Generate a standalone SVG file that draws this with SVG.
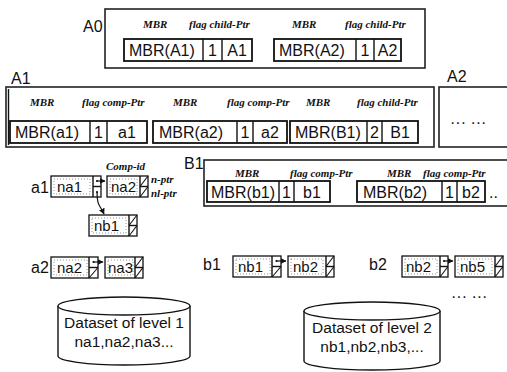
<svg xmlns="http://www.w3.org/2000/svg" width="507" height="372" viewBox="0 0 507 372">
<defs>
<style>
.bg{fill:#fff}
.frame{fill:none;stroke:#222;stroke-width:1.6}
.ent{fill:#fff;stroke:#111;stroke-width:1.8}
.div{stroke:#111;stroke-width:1.4}
.lbl{font-family:"Liberation Sans",Arial,sans-serif;font-size:16px;fill:#111}
.big{font-family:"Liberation Sans",Arial,sans-serif;font-size:16px;fill:#111}
.fld{font-family:"Liberation Serif","Times New Roman",serif;font-style:italic;font-weight:bold;font-size:11px;fill:#111}
.nd{fill:#fff;stroke:#111;stroke-width:1.3}
.dot{fill:none;stroke:#777;stroke-width:0.8;stroke-dasharray:1 2}
.nt{font-family:"Liberation Sans",Arial,sans-serif;font-size:15px;fill:#111}
.ds{font-family:"Liberation Sans",Arial,sans-serif;font-size:15.5px;fill:#111}
.hat{stroke:#111;stroke-width:1.1}
.conn{fill:none;stroke:#111;stroke-width:1.2}
.cyl{fill:#fff;stroke:#111;stroke-width:1.4}
</style>
<marker id="ah" viewBox="0 0 6 6" refX="5.5" refY="3" markerWidth="5" markerHeight="5" orient="auto"><path d="M0,0 L6,3 L0,6 z" fill="#111"/></marker>
</defs>
<rect class="bg" width="507" height="372"/>

<g id="A0">
<text class="big" x="83" y="32">A0</text>
<rect class="frame" x="105" y="9" width="320" height="59"/>
<text class="fld" x="143" y="28">MBR</text>
<text class="fld" x="189" y="28">flag child-Ptr</text>
<text class="fld" x="292" y="28">MBR</text>
<text class="fld" x="345" y="28">flag child-Ptr</text>
<rect class="ent" x="124" y="39" width="128" height="22"/>
<line class="div" x1="203" y1="39" x2="203" y2="61"/><line class="div" x1="222" y1="39" x2="222" y2="61"/>
<text class="lbl" x="129" y="56">MBR(A1)</text><text class="lbl" x="212.5" y="56" text-anchor="middle">1</text><text class="lbl" x="237" y="56" text-anchor="middle">A1</text>
<rect class="ent" x="274" y="39" width="127" height="22"/>
<line class="div" x1="356" y1="39" x2="356" y2="61"/><line class="div" x1="374" y1="39" x2="374" y2="61"/>
<text class="lbl" x="279" y="56">MBR(A2)</text><text class="lbl" x="365" y="56" text-anchor="middle">1</text><text class="lbl" x="387.5" y="56" text-anchor="middle">A2</text>
</g>

<g id="A1">
<text class="big" x="11" y="84">A1</text>
<rect class="frame" x="6" y="87" width="428" height="60"/>
<line class="div" x1="8.5" y1="89" x2="8.5" y2="145" stroke-width="1"/>
<text class="fld" x="30" y="106">MBR</text>
<text class="fld" x="82" y="106">flag comp-Ptr</text>
<text class="fld" x="173" y="106">MBR</text>
<text class="fld" x="227" y="106">flag comp-Ptr</text>
<text class="fld" x="306" y="106">MBR</text>
<text class="fld" x="357" y="106">flag child-Ptr</text>
<rect class="ent" x="10" y="121" width="137" height="22"/>
<line class="div" x1="90" y1="121" x2="90" y2="143"/><line class="div" x1="107" y1="121" x2="107" y2="143"/>
<text class="lbl" x="15" y="138">MBR(a1)</text><text class="lbl" x="98.5" y="138" text-anchor="middle">1</text><text class="lbl" x="127" y="138" text-anchor="middle">a1</text>
<rect class="ent" x="153" y="121" width="134" height="22"/>
<line class="div" x1="237" y1="121" x2="237" y2="143"/><line class="div" x1="253" y1="121" x2="253" y2="143"/>
<text class="lbl" x="159" y="138">MBR(a2)</text><text class="lbl" x="245" y="138" text-anchor="middle">1</text><text class="lbl" x="270" y="138" text-anchor="middle">a2</text>
<rect class="ent" x="290" y="121" width="128" height="22"/>
<line class="div" x1="367" y1="121" x2="367" y2="143"/><line class="div" x1="382" y1="121" x2="382" y2="143"/>
<text class="lbl" x="295" y="138">MBR(B1)</text><text class="lbl" x="374.5" y="138" text-anchor="middle">2</text><text class="lbl" x="400" y="138" text-anchor="middle">B1</text>
</g>

<g id="A2">
<text class="big" x="447" y="82">A2</text>
<rect class="frame" x="439" y="87" width="72" height="60"/>
<text class="lbl" x="450" y="128">··· ···</text>
</g>

<g id="B1">
<text class="big" x="184" y="169">B1</text>
<rect class="frame" x="204" y="160" width="310" height="46"/>
<text class="fld" x="235" y="177">MBR</text>
<text class="fld" x="290" y="177">flag comp-Ptr</text>
<text class="fld" x="387" y="177">MBR</text>
<text class="fld" x="423" y="177">flag comp-Ptr</text>
<rect class="ent" x="207" y="181" width="123" height="21"/>
<line class="div" x1="279" y1="181" x2="279" y2="202"/><line class="div" x1="294" y1="181" x2="294" y2="202"/>
<text class="lbl" x="211" y="198">MBR(b1)</text><text class="lbl" x="286.5" y="198" text-anchor="middle">1</text><text class="lbl" x="312" y="198" text-anchor="middle">b1</text>
<rect class="ent" x="357" y="181" width="128" height="21"/>
<line class="div" x1="442" y1="181" x2="442" y2="202"/><line class="div" x1="457" y1="181" x2="457" y2="202"/>
<text class="lbl" x="363" y="198">MBR(b2)</text><text class="lbl" x="449.5" y="198" text-anchor="middle">1</text><text class="lbl" x="471" y="198" text-anchor="middle">b2</text>
<text class="lbl" x="489" y="198">..</text>
</g>

<g id="a1">
<text class="big" x="31" y="193">a1</text>
<text class="fld" x="106" y="170">Comp-id</text>
<text class="fld" x="151" y="183">n-ptr</text>
<text class="fld" x="151" y="197">nl-ptr</text>
</g>
<g id="a1-na1">
<rect class="nd" x="51" y="176" width="50" height="21"/><rect class="dot" x="54" y="179" width="36" height="15"/>
<line class="div" x1="93" y1="176" x2="93" y2="197"/><line class="div" x1="93" y1="186.5" x2="101" y2="186.5"/>
<circle cx="97" cy="181" r="1.1" fill="#111"/><circle cx="97" cy="192" r="1.1" fill="#111"/>
<text class="nt" x="57" y="192">na1</text>
</g>
<g id="a1-na2">
<rect class="nd" x="107" y="176" width="41" height="21"/><rect class="dot" x="110" y="179" width="27" height="15"/>
<line class="div" x1="140" y1="176" x2="140" y2="197"/><line class="div" x1="140" y1="186.5" x2="148" y2="186.5"/>
<line class="hat" x1="140" y1="186.5" x2="148" y2="176"/><line class="hat" x1="140" y1="197" x2="148" y2="186.5"/>
<text class="nt" x="111" y="192">na2</text>
</g>
<g id="a1-nb1">
<rect class="nd" x="89" y="215" width="48" height="21"/><rect class="dot" x="92" y="218" width="34" height="15"/>
<line class="div" x1="129" y1="215" x2="129" y2="236"/><line class="div" x1="129" y1="225.5" x2="137" y2="225.5"/>
<line class="hat" x1="129" y1="225.5" x2="137" y2="215"/><line class="hat" x1="129" y1="236" x2="137" y2="225.5"/>
<text class="nt" x="94" y="231">nb1</text>
</g>

<g id="a2">
<text class="big" x="31" y="273">a2</text>
</g>
<g id="a2-na2">
<rect class="nd" x="51" y="257" width="47" height="21"/><rect class="dot" x="54" y="260" width="33" height="15"/>
<line class="div" x1="89" y1="257" x2="89" y2="278"/><line class="div" x1="89" y1="267.5" x2="98" y2="267.5"/>
<circle cx="93.5" cy="262" r="1.1" fill="#111"/><line class="hat" x1="89" y1="278" x2="98" y2="267.5"/>
<text class="nt" x="57" y="273">na2</text>
</g>
<g id="a2-na3">
<rect class="nd" x="105" y="257" width="38" height="21"/><rect class="dot" x="108" y="260" width="25" height="15"/>
<line class="div" x1="135" y1="257" x2="135" y2="278"/><line class="div" x1="135" y1="267.5" x2="143" y2="267.5"/>
<line class="hat" x1="135" y1="267.5" x2="143" y2="257"/><line class="hat" x1="135" y1="278" x2="143" y2="267.5"/>
<text class="nt" x="108" y="273">na3</text>
</g>

<g id="b1">
<text class="big" x="203" y="270">b1</text>
</g>
<g id="b1-nb1">
<rect class="nd" x="233" y="256" width="48" height="21"/><rect class="dot" x="236" y="259" width="34" height="15"/>
<line class="div" x1="272" y1="256" x2="272" y2="277"/><line class="div" x1="272" y1="266.5" x2="281" y2="266.5"/>
<circle cx="276.5" cy="261" r="1.1" fill="#111"/><line class="hat" x1="272" y1="277" x2="281" y2="266.5"/>
<text class="nt" x="238" y="272">nb1</text>
</g>
<g id="b1-nb2">
<rect class="nd" x="288" y="256" width="46" height="21"/><rect class="dot" x="291" y="259" width="32" height="15"/>
<line class="div" x1="326" y1="256" x2="326" y2="277"/><line class="div" x1="326" y1="266.5" x2="334" y2="266.5"/>
<line class="hat" x1="326" y1="266.5" x2="334" y2="256"/><line class="hat" x1="326" y1="277" x2="334" y2="266.5"/>
<text class="nt" x="293" y="272">nb2</text>
</g>

<g id="b2">
<text class="big" x="369" y="270">b2</text>
</g>
<g id="b2-nb2">
<rect class="nd" x="402" y="256" width="46" height="21"/><rect class="dot" x="405" y="259" width="32" height="15"/>
<line class="div" x1="440" y1="256" x2="440" y2="277"/><line class="div" x1="440" y1="266.5" x2="448" y2="266.5"/>
<circle cx="444" cy="261" r="1.1" fill="#111"/><line class="hat" x1="440" y1="277" x2="448" y2="266.5"/>
<text class="nt" x="406" y="272">nb2</text>
</g>
<g id="b2-nb5">
<rect class="nd" x="455" y="256" width="48" height="21"/><rect class="dot" x="458" y="259" width="34" height="15"/>
<line class="div" x1="495" y1="256" x2="495" y2="277"/><line class="div" x1="495" y1="266.5" x2="503" y2="266.5"/>
<line class="hat" x1="495" y1="266.5" x2="503" y2="256"/><line class="hat" x1="495" y1="277" x2="503" y2="266.5"/>
<text class="nt" x="460" y="272">nb5</text>
</g>

<g id="more">
<text class="lbl" x="451" y="302">··· ···</text>
</g>

<g id="connectors">
<path class="conn" d="M97,181 L105,181" marker-end="url(#ah)"/>
<path class="conn" d="M97,192 C97,206 100,205 104,214" marker-end="url(#ah)"/>
<path class="conn" d="M93.5,262 L103,262" marker-end="url(#ah)"/>
<path class="conn" d="M276.5,261 L286,261" marker-end="url(#ah)"/>
<path class="conn" d="M444,261 L453,261" marker-end="url(#ah)"/>
</g>

<g id="dataset1">
<path class="cyl" d="M58,306 L58,356 A66,9 0 0 0 190,356 L190,306"/>
<ellipse class="cyl" cx="124" cy="306" rx="66" ry="9"/>
<text class="ds" x="124" y="328" text-anchor="middle">Dataset of level 1</text>
<text class="ds" x="124" y="347" text-anchor="middle">na1,na2,na3...</text>
</g>
<g id="dataset2">
<path class="cyl" d="M304,311 L304,361 A68,9 0 0 0 440,361 L440,311"/>
<ellipse class="cyl" cx="372" cy="311" rx="68" ry="9"/>
<text class="ds" x="372" y="333" text-anchor="middle">Dataset of level 2</text>
<text class="ds" x="372" y="352" text-anchor="middle">nb1,nb2,nb3,...</text>
</g>
</svg>
